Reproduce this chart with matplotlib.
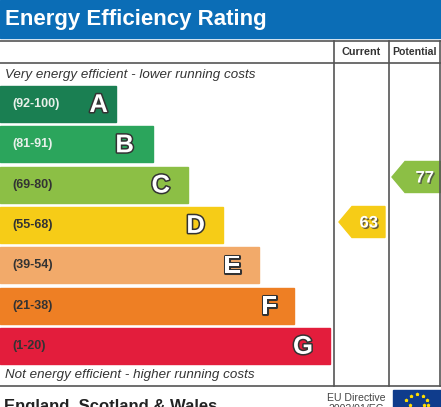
import matplotlib
matplotlib.use("Agg")
import matplotlib.pyplot as plt
import matplotlib.patheffects as pe
from matplotlib.patches import Rectangle, Polygon

plt.rcParams['font.family'] = ['Liberation Sans', 'DejaVu Sans']

# rating bands
letters = ['A', 'B', 'C', 'D', 'E', 'F', 'G']
ranges = ['(92-100)', '(81-91)', '(69-80)', '(55-68)', '(39-54)', '(21-38)', '(1-20)']
colours = ['#1a7f52', '#2ba55c', '#8cbf45', '#f6cc17', '#f2aa6a', '#ee7f24', '#e31d3c']
bar_ends = [116, 153, 188, 223, 259, 294, 330]
letter_pad = [8, 19, 18, 18, 18, 17, 17]
label_colours = ['#e8f0ea', '#e8f0ea', '#333333', '#333333', '#333333', '#333333', '#333333']

current = 63
potential = 77
current_band = 3   # D
potential_band = 2  # C

W, H = 441, 407
fig = plt.figure(figsize=(W / 100, H / 100), dpi=100)
ax = fig.add_axes([0, 0, 1, 1])
ax.set_xlim(0, W)
ax.set_ylim(H, 0)
ax.axis('off')

# blue title band
ax.add_patch(Rectangle((0, 0), W, 38, color='#0b6db6'))
ax.text(5, 19, 'Energy Efficiency Rating', color='white', fontsize=16,
        fontweight='bold', va='center', ha='left')

# grid lines
line_kw = dict(color='#555555', lw=1.2)
ax.plot([0, W], [41, 41], **line_kw)
ax.plot([0, W], [63, 63], **line_kw)
ax.plot([0, W], [386, 386], **line_kw)
ax.plot([334, 334], [41, 386], **line_kw)
ax.plot([389, 389], [41, 386], **line_kw)
ax.plot([440, 440], [41, 386], **line_kw)

ax.text(361.5, 52, 'Current', fontsize=7.8, fontweight='bold', color='#333333',
        ha='center', va='center')
ax.text(414.5, 52, 'Potential', fontsize=7.6, fontweight='bold', color='#333333',
        ha='center', va='center')

ax.text(5, 75, 'Very energy efficient - lower running costs', fontsize=9.6,
        style='italic', color='#333333', va='center')
ax.text(5, 375, 'Not energy efficient - higher running costs', fontsize=9.6,
        style='italic', color='#333333', va='center')

top0, step, bh = 86, 40.3, 36
outline = [pe.withStroke(linewidth=2.2, foreground='#333333')]
for i, (let, rng, col, end, pad, lc) in enumerate(
        zip(letters, ranges, colours, bar_ends, letter_pad, label_colours)):
    y = top0 + i * step
    ax.add_patch(Rectangle((0, y), end, bh, color=col))
    ax.text(12, y + bh / 2, rng, fontsize=9, fontweight='bold', color=lc,
            va='center', ha='left')
    ax.text(end - pad, y + bh / 2 + 1, let, fontsize=18.5, fontweight='bold',
            color='white', va='center', ha='right', path_effects=outline)


def arrow(x_tip, x_end, yc, h, col, val):
    pts = [(x_tip, yc), (x_tip + 13, yc - h / 2), (x_end, yc - h / 2),
           (x_end, yc + h / 2), (x_tip + 13, yc + h / 2)]
    ax.add_patch(Polygon(pts, closed=True, color=col))
    ax.text(x_end - 7, yc + 1, str(val), fontsize=12, fontweight='bold', color='white',
            ha='right', va='center',
            path_effects=[pe.withSimplePatchShadow(offset=(1, -1), shadow_rgbFace='#444444', alpha=0.8)])


arrow(339, 385, 222, 31, colours[current_band], current)
arrow(392, 441, 177, 31, colours[potential_band], potential)

# footer (cut off at the bottom edge, as in the original image)
ax.text(4, 406, 'England, Scotland & Wales', fontsize=12, fontweight='bold',
        color='#222222', va='center', ha='left')
ax.text(356, 398, 'EU Directive', fontsize=7.6, color='#444444', va='center', ha='center')
ax.text(356, 409, '2002/91/EC', fontsize=7.6, color='#444444', va='center', ha='center')
ax.add_patch(Rectangle((393, 390), 48, 20, color='#0f3c8c'))
star_x = [411, 417, 423, 427, 406, 428, 410, 424]
star_y = [396, 394, 396, 400, 400, 405, 405, 405]
ax.scatter(star_x, star_y, s=3, color='#ffdd00', marker='*', zorder=5)

fig.savefig('out.png', dpi=100)
